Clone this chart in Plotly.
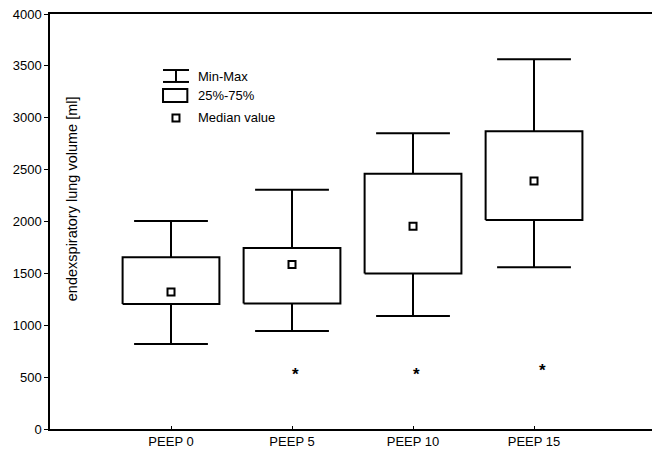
import plotly.graph_objects as go

categories = ["PEEP 0", "PEEP 5", "PEEP 10", "PEEP 15"]
positions = [0, 1, 2, 3]
v_min = [820, 945, 1090, 1560]
q25 = [1205, 1210, 1500, 2015]
median = [1320, 1585, 1955, 2390]
q75 = [1655, 1745, 2460, 2870]
v_max = [2005, 2305, 2850, 3565]
star_x = [1.03, 2.03, 3.07]
star_y = [555, 555, 595]
y_ticks = [0, 500, 1000, 1500, 2000, 2500, 3000, 3500, 4000]

FONT = "Arial, Liberation Sans, sans-serif"
BOX_W = 0.8
CAP_HW = 0.305
LW = 2

fig = go.Figure()

# whisker stems
wx, wy = [], []
for p, lo, a, b, hi in zip(positions, v_min, q25, q75, v_max):
    wx += [p, p, None, p, p, None]
    wy += [lo, a, None, b, hi, None]
fig.add_trace(go.Scatter(x=wx, y=wy, mode="lines", line=dict(color="black", width=LW),
                         hoverinfo="skip", showlegend=False))
# caps
cx, cy = [], []
for p, lo, hi in zip(positions, v_min, v_max):
    cx += [p - CAP_HW, p + CAP_HW, None, p - CAP_HW, p + CAP_HW, None]
    cy += [lo, lo, None, hi, hi, None]
fig.add_trace(go.Scatter(x=cx, y=cy, mode="lines", line=dict(color="black", width=LW),
                         hoverinfo="skip", showlegend=False))
# boxes
bx, by = [], []
for p, a, b in zip(positions, q25, q75):
    bx += [p - BOX_W / 2, p + BOX_W / 2, p + BOX_W / 2, p - BOX_W / 2, p - BOX_W / 2, None]
    by += [a, a, b, b, a, None]
fig.add_trace(go.Scatter(x=bx, y=by, mode="lines", line=dict(color="black", width=LW),
                         hoverinfo="skip", showlegend=False))
# medians
fig.add_trace(go.Scatter(x=positions, y=median, mode="markers",
                         marker=dict(symbol="square-open", size=7, color="black",
                                     line=dict(width=2, color="black")),
                         showlegend=False))
# asterisks
for sx, sy in zip(star_x, star_y):
    fig.add_annotation(x=sx, y=sy, text="<b>*</b>", showarrow=False, yshift=-3,
                       font=dict(family=FONT, size=17, color="black"))

# custom legend
lx0, lx1, lxc, ltx = -0.066, 0.149, 0.041, 0.207
fig.add_shape(type="line", x0=lx0, x1=lx1, y0=3460, y1=3460, line=dict(color="black", width=LW))
fig.add_shape(type="line", x0=lx0, x1=lx1, y0=3345, y1=3345, line=dict(color="black", width=LW))
fig.add_shape(type="line", x0=lxc, x1=lxc, y0=3345, y1=3460, line=dict(color="black", width=LW))
fig.add_shape(type="rect", x0=lx0, x1=0.135, y0=3152, y1=3277, line=dict(color="black", width=LW))
fig.add_trace(go.Scatter(x=[lxc], y=[2998], mode="markers",
                         marker=dict(symbol="square-open", size=7, color="black",
                                     line=dict(width=2, color="black")),
                         showlegend=False, hoverinfo="skip"))
for txt, ty in [("Min-Max", 3402), ("25%-75%", 3210), ("Median value", 2998)]:
    fig.add_annotation(x=ltx, y=ty, text=txt, showarrow=False, xanchor="left",
                       font=dict(family=FONT, size=13, color="black"))

# y-axis title inside plot
fig.add_annotation(xref="paper", x=0, xanchor="center", xshift=22, y=2215,
                   text="endexspiratory lung volume [ml]",
                   textangle=-90, showarrow=False,
                   font=dict(family=FONT, size=14.5, color="black"))

fig.update_layout(
    width=652, height=454,
    margin=dict(l=50, r=0, t=14, b=25),
    paper_bgcolor="white", plot_bgcolor="white",
    font=dict(family=FONT, size=13, color="black"),
    showlegend=False,
    xaxis=dict(range=[-1, 3.975], tickvals=positions, ticktext=categories,
               showline=True, linecolor="black", linewidth=1.5, mirror=True,
               ticks="inside", ticklen=3, tickcolor="black", showgrid=False, zeroline=False,
               fixedrange=True),
    yaxis=dict(range=[0, 4000], tickvals=y_ticks, showline=True, linecolor="black", linewidth=1.5,
               ticks="outside", ticklen=4, tickcolor="black", showgrid=False, zeroline=False,
               fixedrange=True),
)

fig.write_html("out.html", config={"displayModeBar": False},
               post_script="document.body.style.margin='0';")
